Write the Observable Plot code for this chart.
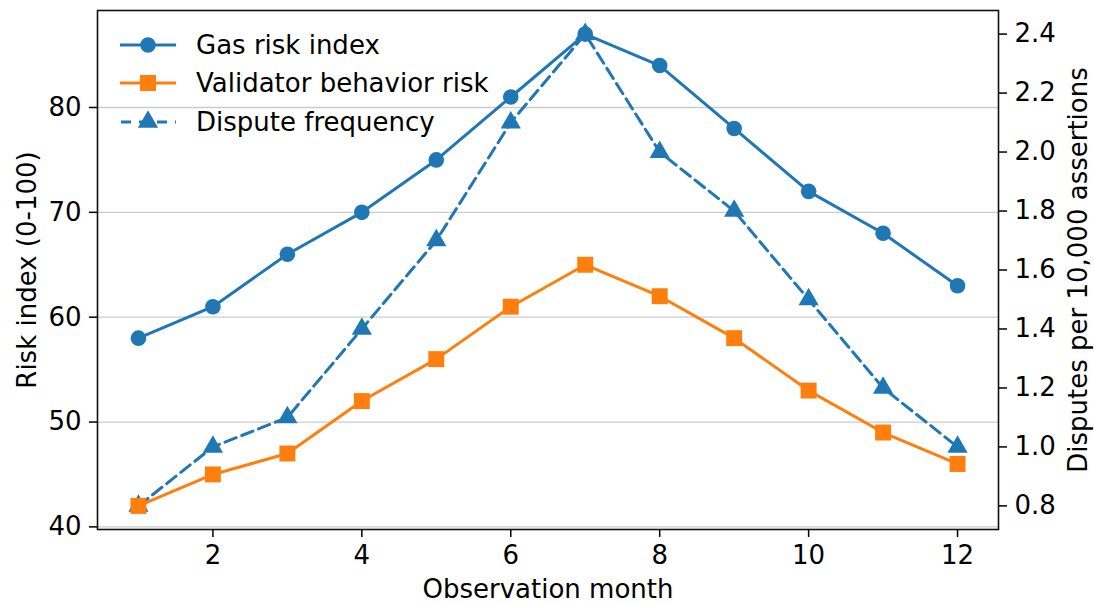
<!DOCTYPE html>
<html>
<head>
<meta charset="utf-8">
<script src="https://cdn.jsdelivr.net/npm/d3@7"></script>
<script src="https://cdn.jsdelivr.net/npm/@observablehq/plot@0.6"></script>
<style>
  html, body { margin: 0; padding: 0; background: white; }
  #wrap { position: relative; width: 1094px; height: 605px; font-family: "DejaVu Sans", sans-serif; }
  .leg { position: absolute; left: 118px; height: 32px; display: flex; align-items: center; font-size: 26px; line-height: 32px; color: #000; white-space: nowrap; }
  .leg svg { margin-right: 18px; }
</style>
</head>
<body>
<div id="wrap"></div>
<script>
const months = [1, 2, 3, 4, 5, 6, 7, 8, 9, 10, 11, 12];
const gasRisk = [58, 61, 66, 70, 75, 81, 87, 84, 78, 72, 68, 63];
const validatorRisk = [42, 45, 47, 52, 56, 61, 65, 62, 58, 53, 49, 46];
const disputeFreq = [0.8, 1.0, 1.1, 1.4, 1.7, 2.1, 2.4, 2.0, 1.8, 1.5, 1.2, 1.0];
const xTicks = [2, 4, 6, 8, 10, 12];
const leftTicks = [40, 50, 60, 70, 80];
const rightTicks = [0.8, 1.0, 1.2, 1.4, 1.6, 1.8, 2.0, 2.2, 2.4];
const seriesNames = ["Gas risk index", "Validator behavior risk", "Dispute frequency"];
const seriesColors = ["#1f77b4", "#ff7f0e", "#1f77b4"];

const leftDomain = [39.75, 89.25];
const rightDomain = [0.72, 2.48];
const toLeft = d3.scaleLinear().domain(rightDomain).range(leftDomain);

const gasData = months.map((m, i) => ({x: m, y: gasRisk[i]}));
const valData = months.map((m, i) => ({x: m, y: validatorRisk[i]}));
const dispData = months.map((m, i) => ({x: m, y: toLeft(disputeFreq[i]), v: disputeFreq[i]}));

const chart = Plot.plot({
  width: 1094,
  height: 605,
  marginLeft: 97,
  marginRight: 96,
  marginTop: 10,
  marginBottom: 76,
  style: {fontFamily: "DejaVu Sans, sans-serif", fontSize: "26px", background: "white", color: "black", overflow: "visible"},
  x: {domain: [0.45, 12.55]},
  y: {domain: leftDomain},
  marks: [
    Plot.gridY(leftTicks, {stroke: "#cccccc", strokeOpacity: 1, strokeWidth: 1.3}),
    Plot.line(dispData, {x: "x", y: "y", stroke: seriesColors[2], strokeWidth: 3, strokeDasharray: "12,6"}),
    Plot.line(valData, {x: "x", y: "y", stroke: seriesColors[1], strokeWidth: 3}),
    Plot.line(gasData, {x: "x", y: "y", stroke: seriesColors[0], strokeWidth: 3}),
    Plot.dot(dispData, {x: "x", y: "y", fill: seriesColors[2], symbol: "triangle", r: 7.5}),
    Plot.dot(valData, {x: "x", y: "y", fill: seriesColors[1], symbol: "square", r: 9}),
    Plot.dot(gasData, {x: "x", y: "y", fill: seriesColors[0], symbol: "circle", r: 7.8}),
    Plot.frame({stroke: "#111", strokeWidth: 1.6}),
    Plot.axisX(xTicks, {tickSize: 8, tickPadding: 8, strokeWidth: 1.5, label: "Observation month", labelAnchor: "center", labelArrow: "none", labelOffset: 68}),
    Plot.axisY(leftTicks, {anchor: "left", tickSize: 8, tickPadding: 8, strokeWidth: 1.5, label: "Risk index (0-100)", labelAnchor: "center", labelArrow: "none", labelOffset: 80}),
    Plot.axisY(rightTicks.map(toLeft), {anchor: "right", tickSize: 8, tickPadding: 8, strokeWidth: 1.5,
      tickFormat: d => toLeft.invert(d).toFixed(1),
      label: "Disputes per 10,000 assertions", labelAnchor: "center", labelArrow: "none", labelOffset: 88, labelRotate: -90})
  ]
});

const wrap = document.getElementById("wrap");
wrap.appendChild(chart);

const symbols = [d3.symbolCircle, d3.symbolSquare, d3.symbolTriangle];
const symSizes = [Math.PI * 7.8 * 7.8, Math.PI * 81, Math.PI * 7.5 * 7.5];
const dashes = [null, null, "10,8"];
const rowCenters = [45, 83, 122];
seriesNames.forEach((name, i) => {
  const row = document.createElement("div");
  row.className = "leg";
  row.style.top = (rowCenters[i] - 16) + "px";
  const path = d3.symbol(symbols[i], symSizes[i])();
  row.innerHTML = `<svg width="60" height="32" viewBox="0 0 60 32">
    <line x1="2" x2="58" y1="16" y2="16" stroke="${seriesColors[i]}" stroke-width="3" ${dashes[i] ? `stroke-dasharray="10,8" stroke-dashoffset="-1"` : ""}/>
    <path d="${path}" transform="translate(30,16)" fill="${seriesColors[i]}"/>
  </svg><span>${name}</span>`;
  wrap.appendChild(row);
});
</script>
</body>
</html>
